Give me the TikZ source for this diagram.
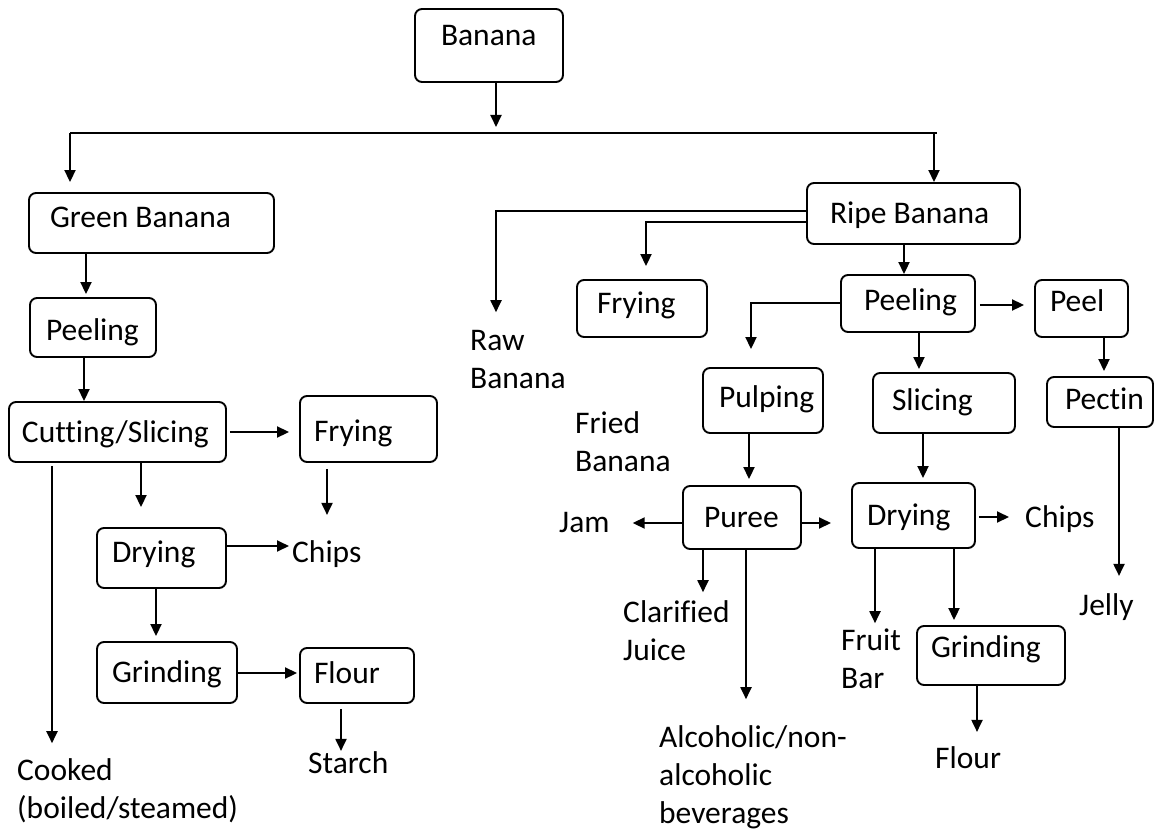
\documentclass[tikz,border=0pt]{standalone}
\usepackage{fontspec}
\setmainfont{Carlito}[Ligatures=NoCommon]
\usetikzlibrary{arrows.meta}
\newcommand\bxt[3]{\makebox[#1pt][l]{\hspace*{#2pt}#3}}
\newcommand\mlt[1]{\begin{tabular}[t]{@{}l@{}}#1\end{tabular}}
\tikzset{
  every node/.style={font=\fontsize{31.5}{38}\selectfont},
  box/.style={draw, rounded corners=7pt, line width=1.9pt, inner sep=0pt},
  lbl/.style={inner sep=0pt, anchor=base west},
  ln/.style={line width=1.9pt},
  arr/.style={line width=1.9pt, -{Triangle[length=12pt,width=11pt]}},
}
\begin{document}
\begin{tikzpicture}[x=1pt,y=-1pt]
\fill[white] (0,0) rectangle (1155,832);
\useasboundingbox (0,0) rectangle (1155,832);
% boxes
\node[box,text height=37pt,text depth=36pt] (banana) at (489,45.5) {\bxt{148}{26}{Banana}};
\node[box,text height=34pt,text depth=26pt] (green) at (151.5,223) {\bxt{245}{21}{Green Banana}};
\node[box,text height=42pt,text depth=17pt] (peelL) at (93,327.5) {\bxt{126}{16}{Peeling}};
\node[box,text height=40pt,text depth=20pt] (cut) at (117.5,432) {\bxt{217}{13}{Cutting/Slicing}};
\node[box,text height=45pt,text depth=21pt] (fryL) at (368.5,429) {\bxt{137}{14}{Frying}};
\node[box,text height=34pt,text depth=26pt] (dryL) at (161.5,558) {\bxt{129}{15}{Drying}};
\node[box,text height=40pt,text depth=21pt] (grindL) at (167,672.5) {\bxt{140}{15}{Grinding}};
\node[box,text height=35pt,text depth=20pt] (flourL) at (357,675.5) {\bxt{114}{14}{Flour}};
\node[box,text height=40pt,text depth=21pt] (ripe) at (913.5,213.5) {\bxt{213}{23}{Ripe Banana}};
\node[box,text height=33pt,text depth=24pt] (fryR) at (642,308.5) {\bxt{130}{20}{Frying}};
\node[box,text height=35pt,text depth=22pt] (peelR) at (908,303.5) {\bxt{134}{23}{Peeling}};
\node[box,text height=31pt,text depth=26pt] (peel) at (1081.5,308.5) {\bxt{93}{15}{Peel}};
\node[box,text height=32pt,text depth=18pt] (pectin) at (1100,402) {\bxt{106}{18}{Pectin}};
\node[box,text height=37pt,text depth=23pt] (slicing) at (944,403) {\bxt{142}{19}{Slicing}};
\node[box,text height=39pt,text depth=26pt] (pulping) at (763,400.5) {\bxt{120}{16}{Pulping}};
\node[box,text height=41pt,text depth=22pt] (puree) at (742,517.5) {\bxt{118}{21}{Puree}};
\node[box,text height=42pt,text depth=23pt] (dryR) at (913.5,515.5) {\bxt{123}{15}{Drying}};
\node[box,text height=31pt,text depth=28pt] (grindR) at (991,655.5) {\bxt{148}{14}{Grinding}};
% plain labels
\node[lbl] (raw) at (470,350) {\mlt{Raw\\Banana}};
\node[lbl] (fried) at (575,433) {\mlt{Fried\\Banana}};
\node[lbl] (cooked) at (17,780) {\mlt{Cooked\\(boiled/steamed)}};
\node[lbl] (clarified) at (623,622) {\mlt{Clarified\\Juice}};
\node[lbl] (alcoholic) at (659,747) {\mlt{Alcoholic/non-\\alcoholic\\beverages}};
\node[lbl] (fruit) at (841,650) {\mlt{Fruit\\Bar}};
\node[lbl] (chipsL) at (292,562) {Chips};
\node[lbl] (starch) at (308,773) {Starch};
\node[lbl] (jam) at (559,532) {Jam};
\node[lbl] (chipsR) at (1025,527) {Chips};
\node[lbl] (flourR) at (935,768) {Flour};
\node[lbl] (jelly) at (1079,615) {Jelly};
% connectors
\coordinate (jb) at (496,127);
\coordinate (hl) at (70,133);
\coordinate (hr) at (934,133);
\coordinate (pe) at (831,523);
\draw[arr] (banana.south -| jb) -- (jb);
\draw[ln] (hl) -- ([xshift=3pt]hr);
\draw[arr, shorten >=10pt] (hl) -- (hl |- green.north);
\draw[arr] (hr) -- (hr |- ripe.north);
\draw[arr, shorten >=3pt] (green.south -| 86,0) -- (peelL.north -| 86,0);
\draw[arr] (peelL.south -| 84,0) -- (cut.north -| 84,0);
\draw[arr, shorten <=3pt, shorten >=10pt] (cut.east |- 0,432) -- (fryL.west |- 0,432);
\draw[arr, shorten <=6pt, shorten >=25pt] (fryL.south -| 327,0) -- (chipsL.north -| 327,0);
\draw[arr, shorten >=20pt] (cut.south -| 141,0) -- (dryL.north -| 141,0);
\draw[arr, shorten <=3pt, shorten >=10pt] (cut.south -| 52,0) -- (cooked.north -| 52,0);
\draw[arr, shorten >=3pt] (dryL.east |- 0,546) -- (chipsL.west |- 0,546);
\draw[arr, shorten >=5pt] (dryL.south -| 156,0) -- (grindL.north -| 156,0);
\draw[arr, shorten >=2pt] (grindL.east |- 0,673) -- (flourL.west |- 0,673);
\draw[arr, shorten <=5pt] (flourL.south -| 341,0) -- (starch.north -| 341,0);
\draw[arr, shorten >=11pt] (ripe.west |- 0,211) -| (raw.north -| 496,0);
\draw[arr, shorten >=13pt] (ripe.west |- 0,222) -| (fryR.north -| 646,0);
\draw[arr] (ripe.south -| 904,0) -- (peelR.north -| 904,0);
\draw[arr, shorten >=18pt] (peelR.west |- 0,303) -| (pulping.north -| 751,0);
\draw[arr, shorten <=4pt, shorten >=10pt] (peelR.east |- 0,305) -- (peel.west |- 0,305);
\draw[arr, shorten >=5pt] (peel.south -| 1104,0) -- (pectin.north -| 1104,0);
\draw[arr, shorten >=3pt] (peelR.south -| 919,0) -- (slicing.north -| 919,0);
\draw[arr, shorten >=17pt] (pectin.south -| 1119,0) -- (jelly.north -| 1119,0);
\draw[arr, shorten >=6pt] (pulping.south -| 749,0) -- (puree.north -| 749,0);
\draw[arr, shorten >=4pt] (slicing.south -| 923,0) -- (dryR.north -| 923,0);
\draw[arr, shorten >=23pt] (puree.west |- 0,523) -- (jam.east |- 0,523);
\draw[arr] (puree.east |- pe) -- (pe);
\draw[arr, shorten <=3pt, shorten >=16pt] (dryR.east |- 0,517) -- (chipsR.west |- 0,517);
\draw[arr, shorten >=3pt] (puree.south -| 703,0) -- (clarified.north -| 703,0);
\draw[arr, shorten >=21pt] (puree.south -| 746,0) -- (alcoholic.north -| 746,0);
\draw[arr] (dryR.south -| 875,0) -- (fruit.north -| 875,0);
\draw[arr, shorten >=5pt] (dryR.south -| 954,0) -- (grindR.north -| 954,0);
\draw[arr, shorten >=14pt] (grindR.south -| 977,0) -- (flourR.north -| 977,0);
\end{tikzpicture}
\end{document}
